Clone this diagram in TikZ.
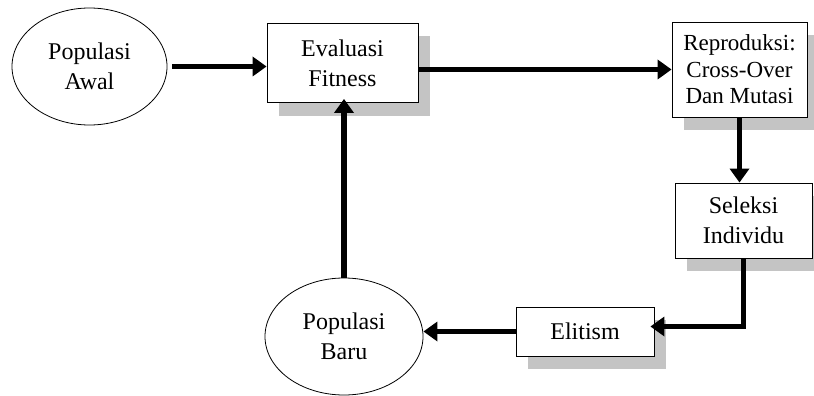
\documentclass[tikz,border=0pt]{standalone}
\usepackage{fontspec}
\setmainfont{Liberation Serif}
\usetikzlibrary{positioning,
                arrows.meta,                % arrow tips
                shapes.geometric,           % ellipse
                shadows}

\tikzset{
  blok/.style={draw, line width=0.8pt, fill=white, align=center, inner sep=0pt,
               font=\fontsize{24}{30}\selectfont,
               drop shadow={shadow xshift=12pt, shadow yshift=-13pt, fill=black!23, opacity=1}},
  oval/.style={draw, ellipse, line width=0.8pt, align=center, inner sep=0pt,
               font=\fontsize{24}{30}\selectfont},
  alur/.style={line width=5.5pt, -{Triangle[length=14pt, width=19pt]}}
}

\begin{document}
\begin{tikzpicture}[x=1pt, y=-1pt]
      \useasboundingbox (0,0) rectangle (814,396);

      \node[oval, minimum width=155pt, minimum height=117pt] (popawal) at (89.5,66.5) {Populasi\\Awal};
      \node[blok, minimum width=151pt, minimum height=79pt] (evalfit) at (342.5,63) {Evaluasi\\Fitness};
      \node[blok, minimum width=135pt, minimum height=95pt, font=\fontsize{23}{26.5}\selectfont] (reproduksi) at (739.5,69.5) {Reproduksi:\\Cross-Over\\Dan Mutasi};
      \node[blok, minimum width=137pt, minimum height=75pt] (seleksi) at (743.5,220.5) {Seleksi\\Individu};
      \node[blok, minimum width=138pt, minimum height=49pt] (elitism) at (585,331.5) {Elitism};
      \node[oval, minimum width=158pt, minimum height=117pt] (popbaru) at (344,336.5) {Populasi\\Baru};

      \draw[alur, shorten <=5pt] (popawal.east) -- (popawal.east -| evalfit.west);
      \draw[alur] (reproduksi.west -| evalfit.east) -- (reproduksi.west);
      \draw[alur] (reproduksi.south) -- (reproduksi.south |- seleksi.north);
      \draw[alur, shorten >=-4pt] (seleksi.south) |- ([yshift=5pt]elitism.east);
      \draw[alur] (elitism.west) -- (elitism.west -| popbaru.east);
      \draw[alur, shorten >=-4pt] (popbaru.north) -- (popbaru.north |- evalfit.south);

    \end{tikzpicture}
\end{document}
